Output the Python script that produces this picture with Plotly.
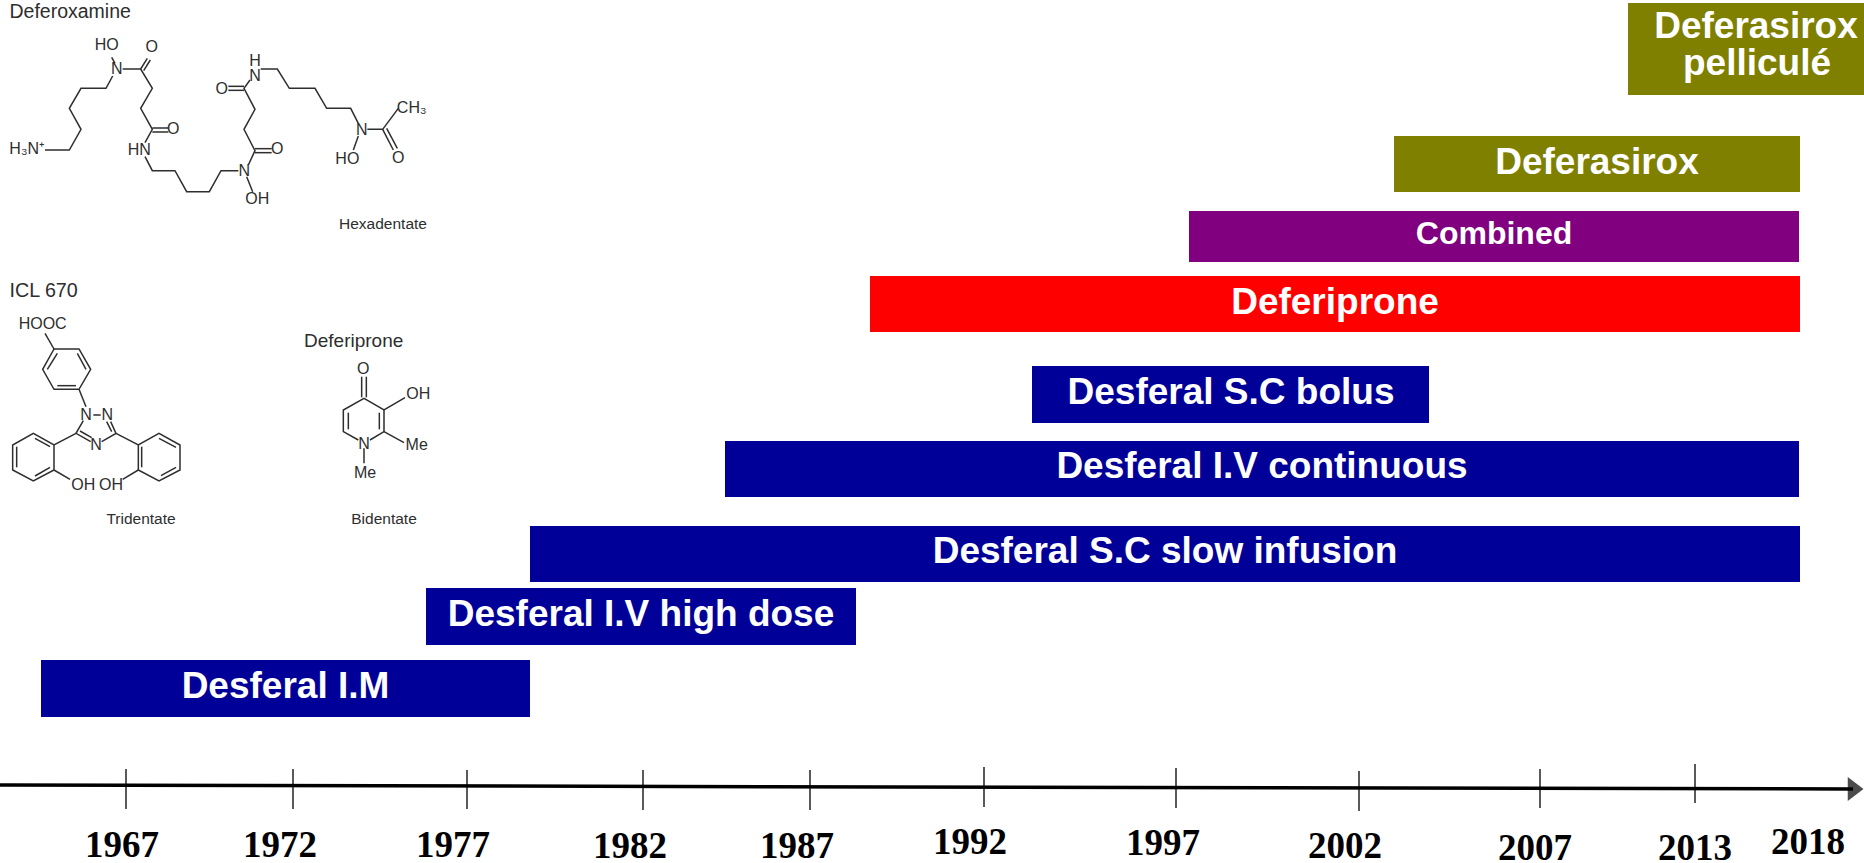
import plotly.graph_objects as go

# ---- Therapy bars (timeline axis units) ----
therapies = ["Desferal I.M", "Desferal I.V high dose", "Desferal S.C slow infusion",
             "Desferal I.V continuous", "Desferal S.C bolus", "Deferiprone",
             "Combined", "Deferasirox", "Deferasirox pelliculé"]
bar_start = [41, 426, 530, 725, 1032, 870, 1189, 1394, 1628]
bar_end = [530, 856, 1800, 1799, 1429, 1800, 1799, 1800, 1864]
bar_row = [688.5, 616.5, 554, 469, 394.5, 304, 236.5, 164, 49]
bar_thickness = [57, 57, 56, 56, 57, 56, 51, 56, 92]
bar_colors = ["#000099"] * 5 + ["#FF0000", "#800080", "#808000", "#808000"]

label_text = ["Desferal I.M", "Desferal I.V high dose", "Desferal S.C slow infusion",
              "Desferal I.V continuous", "Desferal S.C bolus", "Deferiprone",
              "Combined", "Deferasirox", "Deferasirox", "pelliculé"]
label_x = [285.5, 641, 1165, 1262, 1231, 1335, 1494, 1597, 1756, 1757]
label_y = [689, 616.5, 554, 469, 394.5, 305, 235.5, 165, 29, 66]
label_size = [37, 37, 37, 37, 37, 37, 32, 37, 37, 37]

# ---- Timeline ----
years = ["1967", "1972", "1977", "1982", "1987", "1992", "1997", "2002", "2007", "2013", "2018"]
tick_x = [126, 293, 467, 643, 810, 984, 1176, 1359, 1540, 1695]
tick_top = [769, 769, 770, 770, 770, 767, 768, 771, 769, 764]
tick_bottom = [809, 809, 809, 810, 810, 807, 808, 811, 808, 803]
year_x = [122, 280, 453, 630, 797, 970, 1163, 1345, 1535, 1695, 1808]
year_y = [848, 848, 848, 849, 849, 845, 846, 849, 851, 851, 845]
axis_x = [0, 1853]
axis_y = [785, 789]

# ---- Chemical structures: (x, y) bond ends on the crop grid, 3 units per pixel ----
dfo_bonds = [
    [(135, 450), (208, 450), (243, 388), (208, 325), (243, 265), (318, 265), (338, 228)],
    [(345, 190), (335, 172)],
    [(368, 207), (422, 207), (457, 265), (422, 325), (457, 388), (435, 428)],
    [(422, 207), (442, 175)], [(431, 212), (451, 180)],
    [(457, 384), (505, 384)], [(457, 396), (505, 396)],
    [(435, 470), (457, 512), (525, 512), (560, 575), (628, 575), (663, 512), (715, 512)],
    [(740, 530), (758, 575)],
    [(745, 495), (765, 452), (732, 388), (765, 328), (732, 265), (750, 240)],
    [(765, 446), (815, 446)], [(765, 458), (815, 458)],
    [(732, 259), (685, 259)], [(732, 271), (685, 271)],
    [(782, 207), (832, 207), (868, 265), (945, 265), (980, 325), (1052, 325), (1075, 370)],
    [(1075, 408), (1060, 450)],
    [(1102, 388), (1148, 388), (1195, 325)],
    [(1148, 388), (1180, 450)], [(1160, 385), (1192, 445)],
]
dfo_atoms = ["HO", "O", "N", "O", "HN", "H₃N⁺", "O", "H", "N", "N", "OH", "O", "CH₃", "N", "HO", "O"]
dfo_atom_x = [320, 455, 350, 520, 418, 80, 665, 765, 765, 733, 772, 832, 1235, 1085, 1042, 1195]
dfo_atom_y = [137, 144, 211, 389, 454, 451, 269, 186, 232, 516, 601, 451, 326, 392, 479, 476]

icl_bonds = [
    [(162, 237), (237, 237), (272, 298), (237, 358), (162, 358), (128, 298), (162, 237)],
    [(232, 250), (258, 298)], [(172, 347), (228, 347)], [(142, 298), (172, 250)],
    [(162, 237), (135, 190)], [(237, 358), (258, 410)], [(280, 435), (302, 435)],
    [(250, 452), (228, 490), (272, 515)], [(240, 483), (275, 503)],
    [(305, 515), (348, 490), (332, 455)], [(335, 485), (320, 455)],
    [(228, 490), (162, 525), (100, 490), (38, 525), (38, 600), (100, 633), (162, 600), (162, 525)],
    [(105, 505), (150, 530)], [(50, 530), (50, 592)], [(105, 618), (150, 592)],
    [(162, 600), (210, 628)],
    [(348, 490), (415, 525), (477, 490), (540, 525), (540, 600), (477, 633), (415, 600), (415, 525)],
    [(425, 530), (425, 592)], [(477, 505), (528, 532)], [(483, 617), (528, 592)],
    [(415, 600), (368, 628)],
]
icl_atoms = ["HOOC", "N", "N", "N", "OH", "OH"]
icl_atom_x = [128, 258, 322, 288, 250, 333]
icl_atom_y = [164, 439, 439, 529, 649, 649]

dfp_bonds = [
    [(1215, 383), (1152, 420), (1092, 385), (1030, 420), (1030, 485), (1075, 510)],
    [(1152, 420), (1152, 485), (1110, 510)],
    [(1138, 428), (1138, 478)], [(1045, 428), (1045, 478)],
    [(1085, 320), (1085, 382)], [(1099, 320), (1099, 382)],
    [(1152, 485), (1212, 518)], [(1092, 535), (1092, 580)],
]
dfp_atoms = ["O", "OH", "Me", "N", "Me"]
dfp_atom_x = [1090, 1255, 1250, 1092, 1095]
dfp_atom_y = [301, 376, 527, 524, 612]

captions = ["Deferoxamine", "ICL 670", "Deferiprone"]
caption_x = [9.5, 9.5, 304]
caption_y = [13, 292, 342]
caption_size = [19.5, 19.7, 19]
classes = ["Hexadentate", "Tridentate", "Bidentate"]
class_x = [383, 141, 384]
class_y = [225, 520, 520]

CROP_1_TOP, CROP_2_TOP = 0, 270
SANS = "Liberation Sans, Arial, sans-serif"


def segments(bonds, top):
    xs, ys = [], []
    for chain in bonds:
        xs += [p[0] / 3 for p in chain] + [None]
        ys += [top + p[1] / 3 for p in chain] + [None]
    return xs, ys


fig = go.Figure()
INK = "#2e2e2e"

# bars
fig.add_trace(go.Bar(
    orientation="h",
    base=bar_start,
    x=[e - s for s, e in zip(bar_start, bar_end)],
    y=bar_row,
    width=bar_thickness,
    marker=dict(color=bar_colors, line=dict(width=0)),
    customdata=therapies,
    hovertemplate="%{customdata}<extra></extra>",
))
fig.add_trace(go.Scatter(
    x=label_x, y=label_y, mode="text", text=label_text,
    textposition="middle center", hoverinfo="skip",
    textfont=dict(family=SANS, size=label_size, color="white", weight="bold"),
))

# structures
for bonds, top in [(dfo_bonds, CROP_1_TOP), (icl_bonds + dfp_bonds, CROP_2_TOP)]:
    xs, ys = segments(bonds, top)
    fig.add_trace(go.Scatter(x=xs, y=ys, mode="lines", hoverinfo="skip",
                             line=dict(color=INK, width=1.5)))
for atoms, ax, ay, top in [(dfo_atoms, dfo_atom_x, dfo_atom_y, CROP_1_TOP),
                           (icl_atoms, icl_atom_x, icl_atom_y, CROP_2_TOP),
                           (dfp_atoms, dfp_atom_x, dfp_atom_y, CROP_2_TOP)]:
    fig.add_trace(go.Scatter(
        x=[v / 3 for v in ax], y=[top + v / 3 for v in ay], mode="text", text=atoms,
        textposition="middle center", hoverinfo="skip",
        textfont=dict(family=SANS, size=16, color=INK),
    ))
fig.add_trace(go.Scatter(x=caption_x, y=caption_y, mode="text", text=captions,
                         textposition="middle right", hoverinfo="skip",
                         textfont=dict(family=SANS, size=caption_size, color=INK)))
fig.add_trace(go.Scatter(x=class_x, y=class_y, mode="text", text=classes,
                         textposition="middle center", hoverinfo="skip",
                         textfont=dict(family=SANS, size=15.5, color=INK)))

# timeline
fig.add_trace(go.Scatter(x=axis_x, y=axis_y, mode="lines+markers", hoverinfo="skip",
                         line=dict(color="black", width=3.5),
                         marker=dict(symbol=["circle", "triangle-right"], size=[0, 21], color="black",
                                     line=dict(width=0))))
tx, ty = [], []
for x, a, b in zip(tick_x, tick_top, tick_bottom):
    tx += [x, x, None]
    ty += [a, b, None]
fig.add_trace(go.Scatter(x=tx, y=ty, mode="lines", hoverinfo="skip",
                         line=dict(color="black", width=1.3)))
fig.add_trace(go.Scatter(x=year_x, y=year_y, mode="text", text=years,
                         textposition="middle center", hoverinfo="skip",
                         textfont=dict(family="Liberation Serif, Times New Roman, serif", size=37,
                                       color="black", weight="bold")))

fig.update_layout(
    width=1864, height=863, autosize=False,
    margin=dict(l=0, r=0, t=0, b=0, pad=0),
    paper_bgcolor="white", plot_bgcolor="white",
    showlegend=False, bargap=0,
    xaxis=dict(range=[0, 1864], visible=False, fixedrange=True),
    yaxis=dict(range=[863, 0], visible=False, fixedrange=True),
)
fig.write_html("out.html", config=dict(displayModeBar=False),
               post_script="document.body.style.margin='0';document.documentElement.style.overflow='hidden';")
